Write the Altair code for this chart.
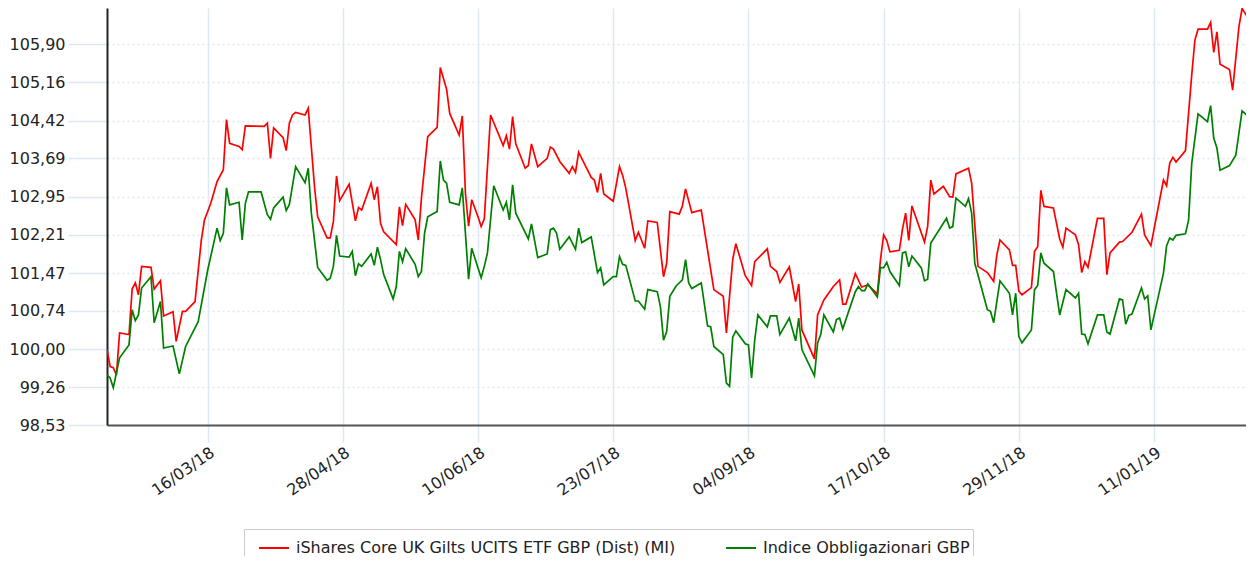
import altair as alt
import pandas as pd

start_date = "2018-02-12"
visible_end = "2019-02-09T06:00:00"
red_name = "iShares Core UK Gilts UCITS ETF GBP (Dist) (MI)"
green_name = "Indice Obbligazionari GBP"

# days after 12/02/2018
red_days = [0, 1, 2, 3, 4, 7, 8, 9, 10, 11,
            14, 15, 17, 18, 21, 22, 24, 25, 28, 30,
            31, 33, 35, 37, 38, 39, 42, 43, 44, 50,
            51, 52, 53, 56, 57, 58, 59, 60, 63, 64,
            66, 67, 70, 71, 72, 73, 74, 77, 79, 80,
            81, 84, 85, 86, 87, 88, 92, 93, 94, 95,
            98, 99, 100, 102, 105, 106, 108, 109, 112, 113,
            114, 115, 116, 118, 119, 120, 122, 126, 127, 128,
            129, 130, 133, 134, 135, 137, 140, 141, 142, 144,
            147, 148, 149, 150, 154, 155, 156, 157, 158, 161,
            163, 164, 165, 168, 169, 171, 172, 175, 177, 178,
            179, 182, 183, 184, 186, 189, 191, 193, 196, 197,
            199, 200, 203, 205, 206, 210, 211, 213, 214, 217,
            219, 220, 221, 225, 226, 228, 231, 233, 234, 235,
            238, 240, 242, 245, 246, 247, 248, 249, 252, 253,
            254, 255, 256, 260, 261, 262, 263, 266, 268, 269,
            270, 274, 275, 277, 280, 282, 283, 284, 287, 288,
            289, 290, 291, 294, 295, 296, 297, 298, 301, 303,
            304, 305, 308, 309, 310, 311, 312, 315, 317, 318,
            319, 322, 323, 326, 329, 330, 332, 336, 337, 338,
            339, 340, 343, 345, 346, 347, 350, 351, 352, 353,
            354, 357, 358, 360, 361, 364, 365]
red_values = [100.00, 99.66, 99.64, 99.50, 100.31, 100.28, 101.16, 101.28, 101.05, 101.60,
              101.58, 101.16, 101.32, 100.64, 100.72, 100.15, 100.73, 100.73, 100.92, 102.11,
              102.50, 102.82, 103.24, 103.47, 104.44, 103.98, 103.92, 103.86, 104.32, 104.31,
              104.37, 103.69, 104.28, 104.09, 103.84, 104.37, 104.53, 104.58, 104.53, 104.66,
              103.14, 102.56, 102.15, 102.15, 102.47, 103.35, 102.87, 103.19, 102.48, 102.74,
              102.69, 103.21, 102.89, 103.14, 102.43, 102.27, 102.02, 102.75, 102.39, 102.80,
              102.50, 102.11, 102.92, 104.11, 104.29, 105.45, 105.03, 104.56, 104.14, 104.51,
              103.01, 102.38, 102.89, 102.56, 102.37, 102.52, 104.53, 103.94, 104.13, 103.87,
              104.50, 103.97, 103.50, 103.55, 103.97, 103.53, 103.69, 103.91, 103.87, 103.63,
              103.40, 103.53, 103.42, 103.81, 103.32, 103.27, 103.03, 103.40, 103.00, 102.86,
              103.53, 103.36, 103.11, 102.10, 102.26, 101.95, 102.48, 102.45, 101.40, 101.66,
              102.66, 102.61, 102.77, 103.10, 102.64, 102.69, 101.92, 101.15, 101.02, 100.31,
              101.73, 102.04, 101.42, 101.23, 101.69, 101.94, 101.60, 101.50, 101.29, 101.59,
              100.92, 101.26, 100.37, 99.81, 100.66, 100.95, 101.21, 101.34, 100.87, 100.87,
              101.46, 101.20, 101.24, 101.07, 101.73, 102.21, 102.10, 101.88, 101.91, 102.32,
              102.63, 102.10, 102.77, 102.07, 102.37, 103.27, 103.00, 103.15, 102.95, 102.94,
              103.39, 103.50, 103.21, 101.60, 101.48, 101.31, 101.82, 102.11, 101.92, 101.62,
              101.62, 101.12, 101.05, 101.19, 101.89, 101.98, 103.07, 102.76, 102.73, 102.13,
              101.97, 102.34, 102.21, 102.02, 101.48, 101.69, 101.58, 102.53, 102.53, 101.44,
              101.86, 102.07, 102.08, 102.26, 102.61, 102.21, 102.00, 103.27, 103.16, 103.60,
              103.71, 103.62, 103.84, 105.31, 105.98, 106.19, 106.19, 106.32, 105.74, 106.14,
              105.51, 105.41, 105.01, 106.24, 106.59, 106.30, 106.05]

green_days = [0, 1, 2, 4, 7, 8, 9, 10, 11, 14,
              15, 17, 18, 21, 23, 25, 29, 32, 35, 36,
              37, 38, 39, 42, 43, 44, 45, 49, 51, 52,
              53, 56, 57, 58, 60, 63, 64, 65, 67, 70,
              71, 72, 73, 74, 77, 78, 79, 80, 81, 84,
              85, 86, 87, 88, 91, 92, 93, 94, 95, 98,
              99, 100, 101, 102, 105, 106, 107, 108, 109, 112,
              113, 115, 116, 119, 120, 121, 123, 126, 127, 128,
              129, 130, 134, 135, 137, 140, 141, 142, 143, 144,
              147, 149, 150, 151, 154, 156, 157, 158, 161, 162,
              163, 164, 165, 168, 169, 171, 172, 175, 176, 177,
              178, 179, 181, 183, 184, 185, 186, 189, 191, 192,
              193, 196, 197, 198, 199, 200, 203, 204, 205, 206,
              207, 210, 211, 213, 214, 217, 219, 220, 221, 225,
              226, 227, 228, 231, 232, 233, 234, 238, 239, 240,
              241, 242, 245, 246, 247, 248, 249, 252, 253, 254,
              255, 256, 259, 260, 261, 262, 267, 268, 269, 270,
              273, 274, 275, 276, 280, 281, 282, 284, 287, 288,
              289, 290, 291, 294, 295, 296, 297, 298, 301, 303,
              305, 308, 309, 310, 311, 312, 315, 317, 318, 319,
              322, 323, 324, 325, 326, 329, 330, 331, 332, 336,
              337, 338, 339, 340, 343, 344, 345, 347, 350, 351,
              352, 353, 354, 357, 359, 361, 364, 365]
green_values = [99.50, 99.44, 99.25, 99.83, 100.08, 100.76, 100.55, 100.66, 101.18, 101.40,
                100.51, 100.92, 100.02, 100.06, 99.52, 100.05, 100.53, 101.52, 102.34, 102.10,
                102.24, 103.12, 102.79, 102.84, 102.11, 102.82, 103.04, 103.04, 102.60, 102.51,
                102.73, 102.94, 102.68, 102.80, 103.53, 103.22, 103.50, 102.63, 101.58, 101.33,
                101.37, 101.60, 102.20, 101.80, 101.78, 101.89, 101.42, 101.65, 101.60, 101.84,
                101.62, 101.97, 101.73, 101.44, 100.97, 101.21, 101.89, 101.69, 101.94, 101.64,
                101.40, 101.50, 102.24, 102.56, 102.66, 103.64, 103.27, 103.21, 102.84, 102.79,
                103.12, 101.35, 101.95, 101.38, 101.60, 101.86, 103.16, 102.69, 102.84, 102.50,
                103.18, 102.63, 102.13, 102.42, 101.77, 101.84, 102.31, 102.34, 102.24, 101.93,
                102.17, 101.93, 102.34, 102.06, 102.17, 101.48, 101.57, 101.24, 101.40, 101.40,
                101.79, 101.64, 101.62, 100.93, 100.93, 100.77, 101.15, 101.11, 100.82, 100.17,
                100.34, 101.02, 101.22, 101.34, 101.73, 101.28, 101.17, 101.28, 100.45, 100.43,
                100.05, 99.89, 99.34, 99.28, 100.23, 100.35, 100.10, 100.08, 99.44, 100.17,
                100.66, 100.43, 100.64, 100.64, 100.28, 100.60, 100.16, 100.60, 99.99, 99.48,
                100.12, 100.28, 100.66, 100.33, 100.57, 100.60, 100.39, 101.11, 101.21, 101.13,
                101.13, 101.26, 101.01, 101.58, 101.57, 101.68, 101.50, 101.23, 101.86, 101.88,
                101.59, 101.80, 101.57, 101.32, 101.35, 102.05, 102.53, 102.34, 102.37, 102.92,
                102.76, 102.91, 102.63, 101.66, 100.76, 100.73, 100.51, 101.32, 101.08, 100.66,
                101.08, 100.24, 100.12, 100.37, 101.15, 101.23, 101.86, 101.66, 101.50, 100.66,
                101.15, 100.99, 101.08, 100.29, 100.28, 100.10, 100.66, 100.66, 100.33, 100.29,
                100.97, 100.95, 100.48, 100.65, 100.68, 101.18, 100.97, 101.03, 100.37, 101.47,
                102.00, 102.15, 102.11, 102.20, 102.23, 102.50, 103.60, 104.55, 104.40, 104.71,
                104.08, 103.89, 103.46, 103.55, 103.75, 104.61, 104.45, 104.14]

y_ticks = [98.53, 99.26, 100.00, 100.74, 101.47, 102.21, 102.95, 103.69, 104.42, 105.16, 105.90]
y_max = 106.60
x_tick_labels = ["16/03/18", "28/04/18", "10/06/18", "23/07/18",
                 "04/09/18", "17/10/18", "29/11/18", "11/01/19"]

assert len(red_days) == len(red_values)
assert len(green_days) == len(green_values)

base = pd.Timestamp(start_date)


def to_dates(days):
    return [(base + pd.Timedelta(days=d)).strftime("%Y-%m-%dT00:00:00") for d in days]


def to_dt(ts):
    t = pd.Timestamp(ts)
    return alt.DateTime(year=t.year, month=t.month, date=t.day, hours=t.hour)


df = pd.concat([
    pd.DataFrame({"date": to_dates(red_days), "value": red_values, "series": red_name}),
    pd.DataFrame({"date": to_dates(green_days), "value": green_values, "series": green_name}),
], ignore_index=True)

x_values = []
for s in x_tick_labels:
    d, m, y = s.split("/")
    x_values.append(alt.DateTime(year=2000 + int(y), month=int(m), date=int(d)))

grid_blue = "#dde8f5"
font = "DejaVu Sans"
text_color = "#222222"

chart = alt.Chart(df).mark_line(strokeWidth=1.7, clip=True).encode(
    x=alt.X(
        "date:T",
        scale=alt.Scale(domain=[to_dt(start_date), to_dt(visible_end)], nice=False),
        axis=alt.Axis(
            values=x_values, format="%d/%m/%y", labelAngle=-35, labelAlign="right",
            labelBaseline="top", tickSize=17, tickColor=grid_blue, tickWidth=1.5,
            gridColor=grid_blue, gridWidth=1.5, domainColor="#555555", domainWidth=2,
            labelPadding=2, title=None,
        ),
    ),
    y=alt.Y(
        "value:Q",
        scale=alt.Scale(domain=[y_ticks[0], y_max], nice=False, zero=False),
        axis=alt.Axis(
            values=y_ticks, labelExpr="replace(format(datum.value, '.2f'), '.', ',')",
            tickSize=39, tickColor=grid_blue, tickWidth=1.5, gridColor=grid_blue,
            gridDash=[2, 3], gridWidth=1.5, domainColor="#222222", domainWidth=2,
            labelPadding=3, title=None,
        ),
    ),
    color=alt.Color(
        "series:N",
        scale=alt.Scale(domain=[red_name, green_name], range=["#ff0000", "#008000"]),
        legend=alt.Legend(
            title=None, orient="none", legendX=137, legendY=521, direction="horizontal",
            symbolType="stroke", symbolSize=900, symbolStrokeWidth=2, symbolOffset=11,
            labelFont=font, labelFontSize=16, labelColor=text_color, labelOffset=6,
            labelLimit=800, columnPadding=38, padding=3, strokeColor="#cccccc",
            fillColor="white",
        ),
    ),
).properties(
    width=1139,
    height=417,
    autosize=alt.AutoSizeParams(type="none"),
    padding={"left": 99, "top": 0, "right": 0, "bottom": 131},
).configure_view(
    stroke=None
).configure_axis(
    labelFont=font, labelFontSize=16, labelColor=text_color,
)

chart.save("out.html", embed_options={"renderer": "svg", "actions": False})
